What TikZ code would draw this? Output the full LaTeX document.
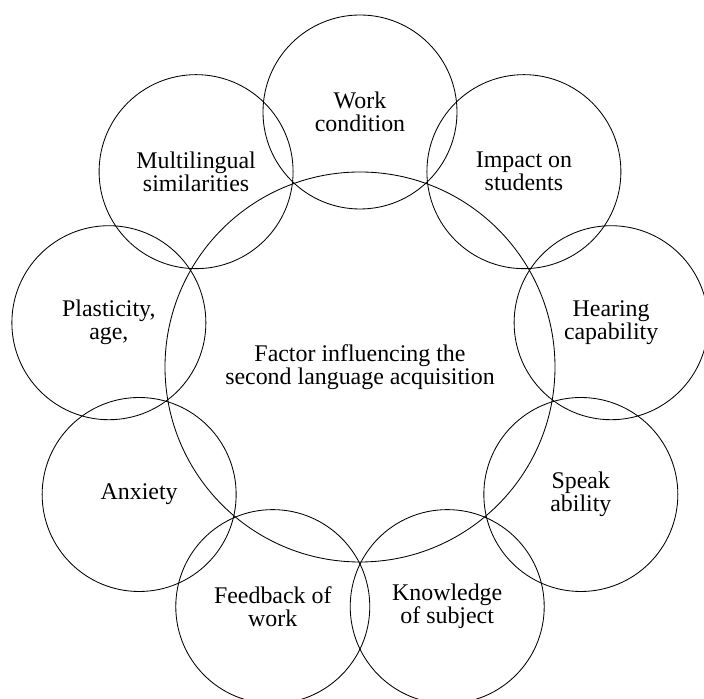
\documentclass[tikz,border=0pt]{standalone}
\usepackage{fontspec}
\setmainfont{Liberation Serif}
\tikzset{
  factor/.style={draw, circle, minimum size=4.85cm, inner sep=0pt,
    align=center, line width=0.6pt,
    font=\fontsize{17}{16.4}\selectfont},
}
\begin{document}
\begin{tikzpicture}
\useasboundingbox (-9.0,-8.3) rectangle (8.6,9.175);

\node[factor, minimum size=9.75cm] (core) at (0,0)
	{Factor influencing the\\second language acquisition};

\node[factor] (work) at (90:6.375) {Work\\condition};
\node[factor] (multi) at (130:6.375) {Multilingual\\similarities};
\node[factor] (plast) at (170:6.375) {Plasticity,\\age,};
\node[factor] (anx) at (210:6.375) {Anxiety};
\node[factor] (feed) at (250:6.375) {Feedback of\\work};
\node[factor] (know) at (290:6.375) {Knowledge\\of subject};
\node[factor] (speak) at (330:6.375) {Speak\\ability};
\node[factor] (hear) at (10:6.375) {Hearing\\capability};
\node[factor] (impact) at (50:6.375) {Impact on\\students};
\end{tikzpicture}
\end{document}
